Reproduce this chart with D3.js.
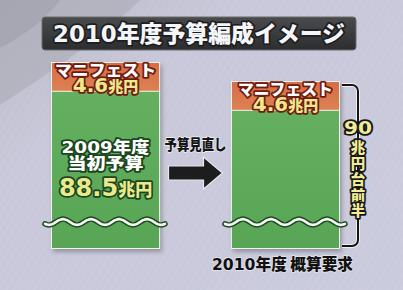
<!DOCTYPE html>
<html>
<head>
<meta charset="utf-8">
<script src="https://cdn.jsdelivr.net/npm/d3@7"></script>
<style>
  html, body { margin: 0; padding: 0; background: #c9c9db; }
  svg { display: block; }
  text { font-family: "Noto Sans CJK JP", "Noto Sans", sans-serif; font-weight: 900; }
  .num { font-family: "DejaVu Sans", "Noto Sans CJK JP", sans-serif; font-weight: bold; }
</style>
</head>
<body>
<div id="chart"></div>
<script>
// Data
var categories = ["2009年度当初予算", "2010年度概算要求"];
var baseValues = [88.5, 85.4];        // 当初予算 / 概算要求 (green part)
var manifestoValues = [4.6, 4.6];     // マニフェスト (orange part)
var manifestoLabel = "マニフェスト";
var manifestoAmount = ["4.6", "兆円"];
var baseLabelLines = [["2009", "年度"], ["", "当初予算"]];
var baseAmount = ["88.5", "兆円"];
var titleText = ["2010", "年度予算編成イメージ"];
var arrowLabel = "予算見直し";
var bottomLabel = ["2010", "年度 概算要求"];
var bracketLabel = ["90", "兆", "円", "台", "前", "半"];

var width = 403, height = 290;

var svg = d3.select("#chart").append("svg")
    .attr("width", width)
    .attr("height", height);

var defs = svg.append("defs");

// background gradient
var bg = defs.append("linearGradient").attr("id", "bg")
    .attr("x1", 0).attr("y1", 0).attr("x2", 1).attr("y2", 1);
bg.append("stop").attr("offset", 0).attr("stop-color", "#b9bac6");
bg.append("stop").attr("offset", 0.3).attr("stop-color", "#c8c8da");
bg.append("stop").attr("offset", 1).attr("stop-color", "#cbcbde");

var orangeGrad = defs.append("linearGradient").attr("id", "orange")
    .attr("x1", 0).attr("y1", 0).attr("x2", 0).attr("y2", 1);
orangeGrad.append("stop").attr("offset", 0).attr("stop-color", "#d86c44");
orangeGrad.append("stop").attr("offset", 1).attr("stop-color", "#dc8254");

var greenGrad = defs.append("linearGradient").attr("id", "green")
    .attr("x1", 0).attr("y1", 0).attr("x2", 0).attr("y2", 1);
greenGrad.append("stop").attr("offset", 0).attr("stop-color", "#64b060");
greenGrad.append("stop").attr("offset", 1).attr("stop-color", "#58a556");

var titleGrad = defs.append("linearGradient").attr("id", "titlebg")
    .attr("x1", 0).attr("y1", 0).attr("x2", 0).attr("y2", 1);
titleGrad.append("stop").attr("offset", 0).attr("stop-color", "#4a4b4d");
titleGrad.append("stop").attr("offset", 1).attr("stop-color", "#2c2d2f");

var shadow = defs.append("filter").attr("id", "shadow")
    .attr("x", "-10%").attr("y", "-10%").attr("width", "130%").attr("height", "130%");
shadow.append("feDropShadow").attr("dx", 2).attr("dy", 3).attr("stdDeviation", 2)
    .attr("flood-color", "#555").attr("flood-opacity", 0.45);

// faint diagonal streaks
var pat = defs.append("pattern").attr("id", "streaks")
    .attr("width", 6).attr("height", 6)
    .attr("patternUnits", "userSpaceOnUse")
    .attr("patternTransform", "rotate(30)");
pat.append("line").attr("x1", 0).attr("y1", 0).attr("x2", 0).attr("y2", 6)
    .attr("stroke", "#ffffff").attr("stroke-opacity", 0.12).attr("stroke-width", 1);

svg.append("rect").attr("width", width).attr("height", height).attr("fill", "url(#bg)");
svg.append("rect").attr("width", width).attr("height", height).attr("fill", "url(#streaks)");

// top-left swoosh
svg.append("path")
    .attr("d", "M0,0 L140,0 C110,30 70,60 0,105 Z")
    .attr("fill", "#a9aab4").attr("opacity", 0.55);
svg.append("path")
    .attr("d", "M0,0 L60,0 C45,20 25,35 0,48 Z")
    .attr("fill", "#9a9ba5").attr("opacity", 0.5);

// outlined text helper
function outlined(g, str, xPos, yPos, size, fill, stroke, sw) {
  return g.append("text")
    .attr("x", xPos).attr("y", yPos)
    .attr("text-anchor", "middle")
    .attr("font-size", size)
    .attr("fill", fill)
    .attr("stroke", stroke).attr("stroke-width", sw)
    .attr("stroke-linejoin", "round")
    .attr("paint-order", "stroke")
    .text(str);
}

// Title
svg.append("rect")
    .attr("x", 42).attr("y", 17).attr("width", 314).attr("height", 33)
    .attr("rx", 3)
    .attr("fill", "url(#titlebg)")
    .attr("stroke", "#6a6b6e").attr("stroke-width", 1);

var title = outlined(svg, "", 199, 42, 23, "#f4f6fa", "#1e1e20", 3.5)
    .attr("textLength", 292).attr("lengthAdjust", "spacingAndGlyphs");
title.append("tspan").attr("class", "num").text(titleText[0]);
title.append("tspan").text(titleText[1]);

// Scales
var x = d3.scaleBand()
    .domain(categories)
    .range([52, 339])
    .paddingInner(0.405)
    .paddingOuter(0);

var y = d3.scaleLinear()
    .domain([63, 93.1])
    .range([248, 63]);

var bars = categories.map(function(c, i) {
  return {
    cat: c,
    base: baseValues[i],
    manifesto: manifestoValues[i],
    total: baseValues[i] + manifestoValues[i]
  };
});

var barG = svg.selectAll("g.bar")
    .data(bars)
    .enter().append("g")
    .attr("class", "bar");

// outer frame (with shadow)
barG.append("rect")
    .attr("x", function(d) { return x(d.cat) - 1; })
    .attr("y", function(d) { return y(d.total) - 1; })
    .attr("width", x.bandwidth() + 2)
    .attr("height", function(d) { return y(y.domain()[0]) - y(d.total) + 2; })
    .attr("fill", "#eef3ec")
    .attr("filter", "url(#shadow)");

// green part
barG.append("rect")
    .attr("x", function(d) { return x(d.cat); })
    .attr("y", function(d) { return y(d.base); })
    .attr("width", x.bandwidth())
    .attr("height", function(d) { return y(y.domain()[0]) - y(d.base); })
    .attr("fill", "url(#green)");

// orange part
barG.append("rect")
    .attr("x", function(d) { return x(d.cat); })
    .attr("y", function(d) { return y(d.total); })
    .attr("width", x.bandwidth())
    .attr("height", function(d) { return y(d.base) - y(d.total); })
    .attr("fill", "url(#orange)");

// separator line between parts
barG.append("line")
    .attr("x1", function(d) { return x(d.cat); })
    .attr("x2", function(d) { return x(d.cat) + x.bandwidth(); })
    .attr("y1", function(d) { return y(d.base); })
    .attr("y2", function(d) { return y(d.base); })
    .attr("stroke", "#f2f0e8").attr("stroke-width", 1);

// wavy break line
var waveY = 222;
var waveLine = d3.line().curve(d3.curveBasis);
function wavePoints(d) {
  var x0 = x(d.cat) - 7, x1 = x(d.cat) + x.bandwidth() + 6;
  var pts = [], period = 28;
  for (var xx = x0; xx <= x1; xx += 2) {
    pts.push([xx, waveY + 3 * Math.cos((xx - x0 - 4) / period * 2 * Math.PI)]);
  }
  return pts;
}
barG.append("path")
    .attr("d", function(d) { return waveLine(wavePoints(d)); })
    .attr("fill", "none").attr("stroke", "#1f4a22").attr("stroke-width", 5.5)
    .attr("stroke-linecap", "round");
barG.append("path")
    .attr("d", function(d) { return waveLine(wavePoints(d)); })
    .attr("fill", "none").attr("stroke", "#f4f8f2").attr("stroke-width", 2.6)
    .attr("stroke-linecap", "round");

// labels in orange part
barG.each(function(d, i) {
  var g = d3.select(this);
  var cx = x(d.cat) + x.bandwidth() / 2;
  var top = y(d.total);
  outlined(g, manifestoLabel, cx, top + 13, 15.5, "#ffffff", "#6e1c10", 3.5)
    .attr("textLength", i === 0 ? 101 : 95).attr("lengthAdjust", "spacingAndGlyphs");
  var t = outlined(g, "", cx, top + 29, 16, "#eee88e", "#6e1c10", 3.5);
  t.append("tspan").attr("class", "num").attr("font-size", 20).text(manifestoAmount[0]);
  t.append("tspan").attr("font-size", 15).text(manifestoAmount[1]);
});

// labels in the 2009 green part
var g0 = d3.select(barG.nodes()[0]);
var b0 = bars[0];
var cx0 = x(b0.cat) + x.bandwidth() / 2;
var l1 = outlined(g0, "", cx0, y(b0.base) + 62, 16, "#ffffff", "#1b461d", 3.5)
    .attr("textLength", 88).attr("lengthAdjust", "spacingAndGlyphs");
l1.append("tspan").attr("class", "num").text(baseLabelLines[0][0]);
l1.append("tspan").text(baseLabelLines[0][1]);
outlined(g0, baseLabelLines[1][1], cx0, y(b0.base) + 78, 16, "#ffffff", "#1b461d", 3.5)
    .attr("textLength", 76).attr("lengthAdjust", "spacingAndGlyphs");
var amt = outlined(g0, "", cx0, y(b0.base) + 105, 24, "#e9e98e", "#1b461d", 3.5);
amt.append("tspan").attr("class", "num").text(baseAmount[0]);
amt.append("tspan").attr("font-size", 17).text(baseAmount[1]);

// middle arrow and label
var midX = (x(categories[0]) + x.bandwidth() + x(categories[1])) / 2;
svg.append("text")
    .attr("x", midX).attr("y", 150)
    .attr("text-anchor", "middle")
    .attr("font-size", 15)
    .attr("textLength", 62).attr("lengthAdjust", "spacingAndGlyphs")
    .attr("fill", "#151515")
    .attr("stroke", "#f0f0f4").attr("stroke-width", 1.5)
    .attr("paint-order", "stroke")
    .text(arrowLabel);

var ax0 = midX - 27, ax1 = midX + 27, ay = 173;
svg.append("path")
    .attr("d", "M" + ax0 + "," + (ay - 7) +
               "L" + (ax1 - 19) + "," + (ay - 7) +
               "L" + (ax1 - 19) + "," + (ay - 16) +
               "L" + ax1 + "," + ay +
               "L" + (ax1 - 19) + "," + (ay + 16) +
               "L" + (ax1 - 19) + "," + (ay + 7) +
               "L" + ax0 + "," + (ay + 7) + "Z")
    .attr("fill", "#1c1d1c")
    .attr("stroke", "#e8e8ee").attr("stroke-width", 1.2)
    .attr("stroke-linejoin", "miter");

// bracket on the right of the 2010 bar
var b1 = bars[1];
var bx0 = x(b1.cat) + x.bandwidth() + 3;
var bx1 = bx0 + 16;
var byTop = y(b1.total) + 3, byBot = y(y.domain()[0]) - 2;
var p = d3.path();
p.moveTo(bx0, byTop);
p.arcTo(bx1, byTop, bx1, byTop + 8, 6);
p.arcTo(bx1, byBot, bx0, byBot, 6);
p.lineTo(bx0, byBot);
svg.append("path").attr("d", p.toString())
    .attr("fill", "none").attr("stroke", "#eeeef4").attr("stroke-width", 4);
svg.append("path").attr("d", p.toString())
    .attr("fill", "none").attr("stroke", "#151515").attr("stroke-width", 2);

var bracketY = [134, 153, 169, 185, 201, 216];
var bg2 = svg.append("g");
bracketLabel.forEach(function(s, i) {
  var t = outlined(bg2, s, bx1, bracketY[i], i === 0 ? 17 : 14.5, "#f2ec98", "#161616", 3.5);
  if (i === 0) t.attr("class", "num").attr("textLength", 28).attr("lengthAdjust", "spacingAndGlyphs");
});

// bottom label
var bl = svg.append("text")
    .attr("x", x(b1.cat) + x.bandwidth() / 2 - 3).attr("y", 270)
    .attr("text-anchor", "middle")
    .attr("font-size", 15.5)
    .attr("textLength", 141).attr("lengthAdjust", "spacingAndGlyphs")
    .attr("fill", "#111")
    .attr("stroke", "#e6e6ee").attr("stroke-width", 1.5)
    .attr("paint-order", "stroke");
bl.append("tspan").attr("class", "num").text(bottomLabel[0]);
bl.append("tspan").text(bottomLabel[1]);
</script>
</body>
</html>
